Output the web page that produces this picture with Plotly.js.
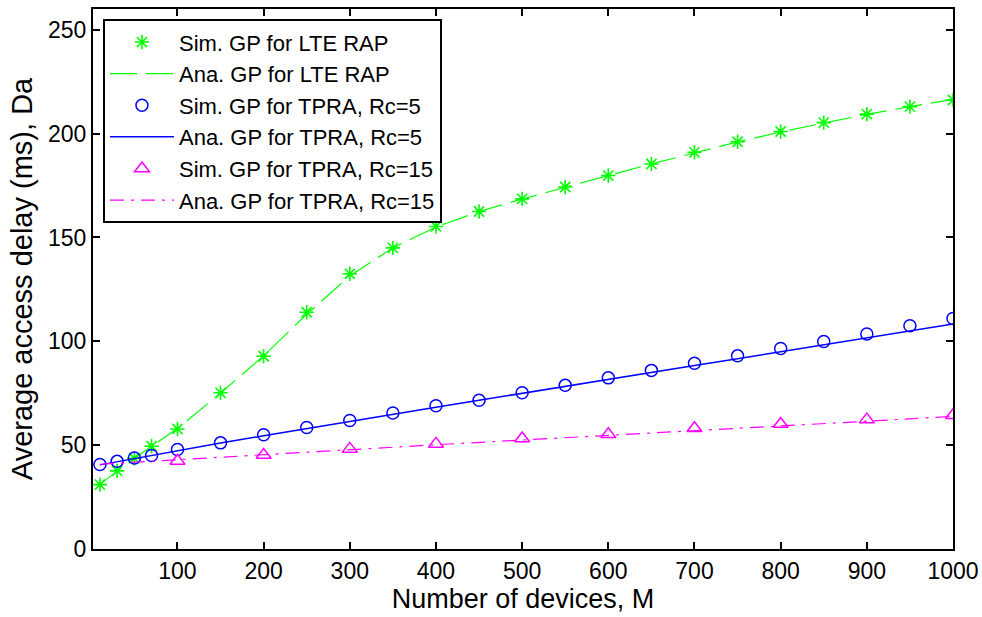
<!DOCTYPE html>
<html>
<head>
<meta charset="utf-8">
<script src="https://cdn.plot.ly/plotly-3.0.1.min.js"></script>
<style>
  html, body { margin: 0; padding: 0; background: #ffffff; }
  #chart { width: 982px; height: 617px; }
</style>
</head>
<body>
<div id="chart"></div>
<script>
// Number of devices M
const devicesM = [10, 30, 50, 70, 100, 150, 200, 250, 300, 350, 400, 450, 500, 550, 600, 650, 700, 750, 800, 850, 900, 950, 1000];
const devicesM15 = [100, 200, 300, 400, 500, 600, 700, 800, 900, 1000];

// Simulated / analytical GP for LTE RAP
const simLTE = [31, 37.6, 43.7, 49.5, 57.8, 75.2, 92.8, 114, 132.5, 145, 155.3, 162.5, 168.6, 174.3, 179.8, 185.4, 191, 196.1, 201, 205.3, 209.4, 213, 216.2];
const anaLTE = [31, 37.5, 43.5, 49.5, 58, 75, 93, 113, 131.5, 145, 155, 162.5, 168.5, 174.3, 179.8, 185.4, 190.8, 196, 200.8, 205.2, 209.3, 213, 216.5];

// Simulated / analytical GP for TPRA, Rc=5
const simTPRA5 = [40.7, 42.2, 43.8, 45, 47.9, 51.1, 55, 58.5, 61.9, 65.5, 69, 71.6, 75.2, 78.8, 82.4, 86, 89.4, 93, 96.5, 99.9, 103.5, 107.5, 111];
const anaTPRA5 = [40.5, 42, 43.5, 45, 47.5, 51, 54.5, 58, 61.5, 65, 68.3, 71.6, 75, 78.3, 81.6, 85, 88.3, 91.6, 95, 98.3, 101.6, 105, 108.3];

// Simulated / analytical GP for TPRA, Rc=15
const simTPRA15 = [42.4, 45.3, 48.2, 50.6, 53.2, 55.2, 58.1, 60.2, 62.3, 64.4];
const anaTPRA15 = [40.8, 41.3, 41.8, 42.3, 43, 44.2, 45.4, 46.6, 47.8, 49, 50.2, 51.3, 52.4, 53.5, 54.6, 55.7, 56.8, 57.9, 59.2, 60.3, 61.5, 62.7, 63.9];

const seriesNames = [
  'Sim. GP for LTE RAP',
  'Ana. GP for LTE RAP',
  'Sim. GP for TPRA, Rc=5',
  'Ana. GP for TPRA, Rc=5',
  'Sim. GP for TPRA, Rc=15',
  'Ana. GP for TPRA, Rc=15'
];

const xTickVals = [100, 200, 300, 400, 500, 600, 700, 800, 900, 1000];
const yTickVals = [0, 50, 100, 150, 200, 250];

const GREEN = '#00ff00', BLUE = '#0000ff', MAGENTA = '#ff00ff';
const FONT = 'Liberation Sans, Arial, sans-serif';

const traces = [
  { x: devicesM, y: simLTE, name: seriesNames[0], mode: 'markers', type: 'scatter',
    marker: { symbol: 'asterisk-open', size: 12, color: GREEN, line: { color: GREEN, width: 1.6 } } },
  { x: devicesM, y: anaLTE, name: seriesNames[1], mode: 'lines', type: 'scatter',
    line: { color: GREEN, width: 1.2, dash: '27px,9px' } },
  { x: devicesM, y: simTPRA5, name: seriesNames[2], mode: 'markers', type: 'scatter',
    marker: { symbol: 'circle-open', size: 12, color: BLUE, line: { color: BLUE, width: 1.5 } } },
  { x: devicesM, y: anaTPRA5, name: seriesNames[3], mode: 'lines', type: 'scatter',
    line: { color: BLUE, width: 1.5 } },
  { x: devicesM15, y: simTPRA15, name: seriesNames[4], mode: 'markers', type: 'scatter',
    marker: { symbol: 'triangle-up-open', size: 13, color: MAGENTA, line: { color: MAGENTA, width: 1.5 } } },
  { x: devicesM, y: anaTPRA15, name: seriesNames[5], mode: 'lines', type: 'scatter',
    line: { color: MAGENTA, width: 1.2, dash: '14px,7px,3px,7px' } }
];

const layout = {
  width: 982, height: 617,
  margin: { l: 93, r: 29, t: 9, b: 68 },
  paper_bgcolor: '#ffffff', plot_bgcolor: '#ffffff',
  font: { family: FONT, size: 23, color: '#000000' },
  showlegend: true,
  legend: {
    x: 0.0116, y: 0.981, xanchor: 'left', yanchor: 'top',
    bgcolor: '#ffffff', bordercolor: '#000000', borderwidth: 2,
    font: { family: FONT, size: 22, color: '#000000' },
    itemwidth: 64, tracegroupgap: 0
  },
  xaxis: {
    range: [2, 1000], tickvals: xTickVals, ticktext: xTickVals.map(String),
    ticks: 'inside', ticklen: 7, tickwidth: 2, tickcolor: '#000000',
    showline: true, linecolor: '#000000', linewidth: 2, mirror: 'allticks',
    showgrid: false, zeroline: false,
    tickfont: { family: FONT, size: 23, color: '#000000' },
    title: { text: 'Number of devices, M', font: { family: FONT, size: 27, color: '#000000' }, standoff: 6 }
  },
  yaxis: {
    range: [0, 260], tickvals: yTickVals, ticktext: yTickVals.map(String),
    ticks: 'inside', ticklen: 7, tickwidth: 2, tickcolor: '#000000',
    showline: true, linecolor: '#000000', linewidth: 2, mirror: 'allticks',
    showgrid: false, zeroline: false,
    tickfont: { family: FONT, size: 23, color: '#000000' },
    title: { text: 'Average access delay (ms), Da', font: { family: FONT, size: 29, color: '#000000' }, standoff: 7 }
  }
};

Plotly.newPlot('chart', traces, layout, { displayModeBar: false, staticPlot: true });
</script>
</body>
</html>
